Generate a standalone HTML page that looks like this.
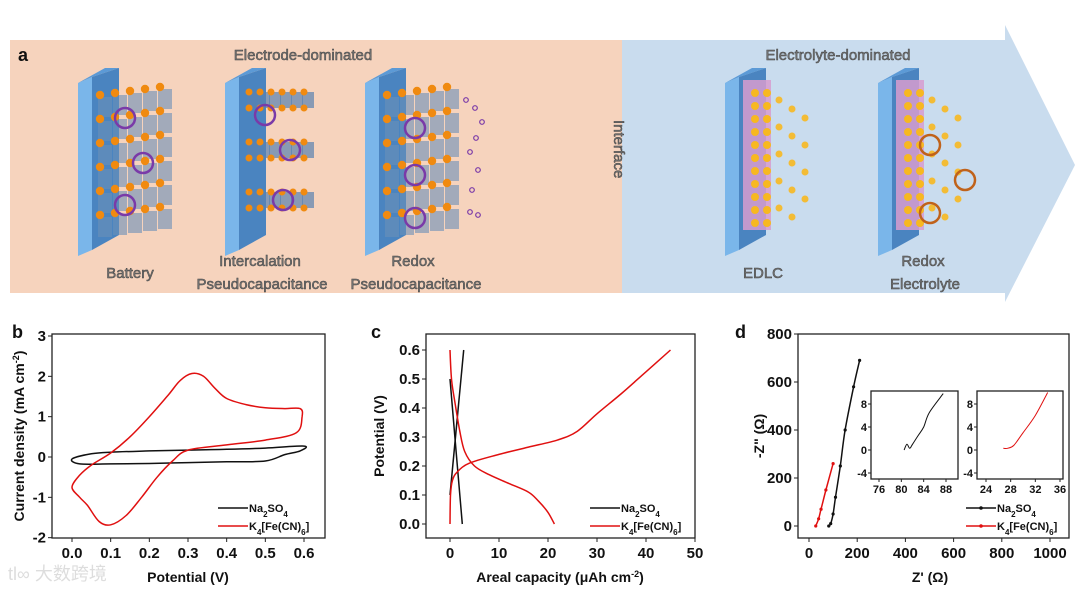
<!DOCTYPE html>
<html><head><meta charset="utf-8">
<style>
html,body{margin:0;padding:0;background:#fff;}
body{width:1080px;height:589px;overflow:hidden;position:relative;font-family:"Liberation Sans",Arial,sans-serif;}
svg{position:absolute;left:0;top:0;}
.lab{font-family:"Liberation Sans",sans-serif;font-size:15px;fill:#777;stroke:#444;stroke-width:0.5px;}
.tk{font-family:"Liberation Sans",sans-serif;font-weight:bold;font-size:15px;fill:#111;}
.ax{font-family:"Liberation Sans",sans-serif;font-weight:bold;font-size:14px;fill:#111;}
.lg{font-family:"Liberation Sans",sans-serif;font-weight:bold;font-size:11px;fill:#111;}
.itk{font-family:"Liberation Sans",sans-serif;font-weight:bold;font-size:11px;fill:#111;}
</style></head>
<body>
<svg id="fig" width="1080" height="589" viewBox="0 0 1080 589">
 <g id="top">
  <polygon points="622,40 1005,40 1005,25 1075,165 1005,302 1005,293 622,293" fill="#c9dcee"/>
  <rect x="10" y="40" width="612" height="253" fill="#f6d3bd"/>
  <text x="18" y="61" font-weight="bold" font-size="18" fill="#111">a</text>
  <text class="lab" x="303" y="60" text-anchor="middle">Electrode-dominated</text>
  <text class="lab" x="838" y="60" text-anchor="middle">Electrolyte-dominated</text>
  <text class="lab" x="130" y="278" text-anchor="middle">Battery</text>
  <text class="lab" x="260" y="266" text-anchor="middle">Intercalation</text>
  <text class="lab" x="262" y="289" text-anchor="middle">Pseudocapacitance</text>
  <text class="lab" x="413" y="266" text-anchor="middle">Redox</text>
  <text class="lab" x="416" y="289" text-anchor="middle">Pseudocapacitance</text>
  <text class="lab" x="763" y="278" text-anchor="middle">EDLC</text>
  <text class="lab" x="923" y="266" text-anchor="middle">Redox</text>
  <text class="lab" x="925" y="289" text-anchor="middle">Electrolyte</text>
  <text class="lab" x="0" y="0" transform="translate(614,120) rotate(90)">Interface</text>
 </g>
 <g id="art"></g>
 <g id="pb"></g><g id="pc"></g><g id="pd"></g>
 <text x="8" y="580" font-size="18" fill="#ddd" font-family="'Liberation Sans','Noto Sans CJK SC',sans-serif">tl∞ 大数跨境</text>
</svg>
<script>
// ---- panel b data (CV) ----
const cvNaX=[0,0.05,0.1,0.2,0.3,0.4,0.5,0.6,0.59,0.55,0.5,0.4,0.3,0.2,0.1,0.02,0];
const cvNaY=[-0.05,0.08,0.12,0.15,0.17,0.19,0.22,0.27,0.15,0.06,-0.1,-0.12,-0.14,-0.16,-0.17,-0.17,-0.05];
const cvKX=[0,0.02,0.05,0.1,0.15,0.2,0.25,0.28,0.31,0.34,0.37,0.4,0.45,0.5,0.55,0.59,0.595,0.58,0.5,0.4,0.3,0.26,0.22,0.18,0.14,0.1,0.07,0.04,0.02,0];
const cvKY=[-0.75,-0.45,-0.2,0.1,0.5,1.0,1.55,1.9,2.07,2.0,1.7,1.45,1.3,1.22,1.2,1.2,1.0,0.6,0.42,0.3,0.17,-0.1,-0.5,-1.0,-1.45,-1.68,-1.6,-1.2,-1.0,-0.75];
const bXTicks=[0,0.1,0.2,0.3,0.4,0.5,0.6];
const bYTicks=[-2,-1,0,1,2,3];
// ---- panel c data (GCD) ----
const gNaChX=[0,2.8];const gNaChY=[0.1,0.6];
const gNaDisX=[0,2.5];const gNaDisY=[0.5,0];
const gKChX=[0,0.1,0.5,1.5,4,10,16,22,26,30,35,40,45];
const gKChY=[0,0.1,0.15,0.18,0.21,0.24,0.265,0.29,0.32,0.38,0.45,0.525,0.6];
const gKDisX=[0,0.3,1,2,3,5,8,12,16,18,20,21.3];
const gKDisY=[0.6,0.5,0.42,0.32,0.25,0.2,0.17,0.14,0.11,0.08,0.04,0];
const cXTicks=[0,10,20,30,40,50];
const cYTicks=[0,0.1,0.2,0.3,0.4,0.5,0.6];
// ---- panel d data (EIS) ----
const eNaX=[82,90,100,110,130,150,185,210];
const eNaY=[0,10,50,120,250,400,580,690];
const eKX=[28,40,50,70,100];
const eKY=[0,30,70,150,260];
const iNaX=[80.5,81,81.5,82,83,84,85,87.5];
const iNaY=[0,1,0.3,1,2.5,4,6.5,9.8];
const iKX=[26.8,27.5,28.5,30,32,34];
const iKY=[0.3,0.3,0.8,3,6,10];
const dXTicks=[0,200,400,600,800,1000];
const dYTicks=[0,200,400,600,800];
const i1XTicks=[76,80,84,88];const i2XTicks=[24,28,32,36];const iYTicks=[-4,0,4,8];

const NS='http://www.w3.org/2000/svg';
function mk(p,t,a){const e=document.createElementNS(NS,t);for(const k in a)e.setAttribute(k,a[k]);p.appendChild(e);return e;}
function lin(d0,d1,r0,r1){return v=>r0+(v-d0)*(r1-r0)/(d1-d0);}
function path(g,xs,ys,sx,sy,col,w,name,closed){
 const P=xs.map((v,i)=>[sx(v),sy(ys[i])]);const n=P.length;
 let d='M'+P[0][0].toFixed(1)+','+P[0][1].toFixed(1);
 for(let i=0;i<n-1;i++){const p0=P[i>0?i-1:(closed?n-2:0)],p1=P[i],p2=P[i+1],p3=P[i+2<n?i+2:(closed?1:n-1)];
  const c1=[p1[0]+(p2[0]-p0[0])/6,p1[1]+(p2[1]-p0[1])/6],c2=[p2[0]-(p3[0]-p1[0])/6,p2[1]-(p3[1]-p1[1])/6];
  d+='C'+c1.map(v=>v.toFixed(1)).join(',')+' '+c2.map(v=>v.toFixed(1)).join(',')+' '+p2[0].toFixed(1)+','+p2[1].toFixed(1);}
 if(closed)d+='Z';
 const e=mk(g,'path',{d:d,fill:'none',stroke:col,'stroke-width':w,'stroke-linejoin':'round'});
 
 return e;}
function box(g,x0,y0,x1,y1){const r=mk(g,'rect',{x:x0,y:y0,width:x1-x0,height:y1-y0,fill:'none',stroke:'#222','stroke-width':1.3});
 
 }
function axes(g,x0,y0,x1,y1,sx,sy,xt,yt,cls,fmtx,fmty,big){
 box(g,x0,y0,x1,y1);
 xt.forEach(v=>{const x=sx(v);mk(g,'line',{x1:x,y1:y1,x2:x,y2:y1+(big?4:3),stroke:'#222'});
  const t=mk(g,'text',{x:x,y:y1+(big?20:14),'text-anchor':'middle',class:cls});t.textContent=fmtx(v);
  
  });
 yt.forEach(v=>{const y=sy(v);mk(g,'line',{x1:x0,y1:y,x2:x0-(big?4:3),y2:y,stroke:'#222'});
  const t=mk(g,'text',{x:x0-(big?6:4),y:y+(big?5:4),'text-anchor':'end',class:cls});t.textContent=fmty(v);
  
  });}
function legend(g,x,y,withDots){
 [['#111','Na<tspan baseline-shift="sub" font-size="8">2</tspan>SO<tspan baseline-shift="sub" font-size="8">4</tspan>'],['#e01010','K<tspan baseline-shift="sub" font-size="8">4</tspan>[Fe(CN)<tspan baseline-shift="sub" font-size="8">6</tspan>]']].forEach((it,i)=>{
  const yy=y+i*18;const l=mk(g,'line',{x1:x,y1:yy,x2:x+30,y2:yy,stroke:it[0],'stroke-width':1.5});
  
  
  if(withDots)mk(g,'circle',{cx:x+15,cy:yy,r:1.8,fill:it[0]});
  const t=mk(g,'text',{x:x+31,y:yy+4,class:'lg'});t.innerHTML=it[1];
  
  });}
function ylab(g,x,y,html,name){const t=mk(g,'text',{x:0,y:0,transform:`translate(${x},${y}) rotate(-90)`,'text-anchor':'middle',class:'ax'});t.innerHTML=html;
 
 }
function xlab(g,x,y,html,name){const t=mk(g,'text',{x:x,y:y,'text-anchor':'middle',class:'ax'});t.innerHTML=html;
 
 }
function plabel(g,x,y,s){const t=mk(g,'text',{x:x,y:y,'font-weight':'bold','font-size':18,fill:'#111'});t.textContent=s;
 
 }

// panel b
(function(){const g=document.getElementById('pb');
 const sx=lin(0,0.6,72,304), sy=lin(0,3,457,336);
 axes(g,52,334,325,538,sx,sy,bXTicks,bYTicks,'tk',v=>v.toFixed(1),v=>String(v),true);
 path(g,cvNaX,cvNaY,sx,sy,'#111',1.5,'cv-na2so4',true);
 path(g,cvKX,cvKY,sx,sy,'#e01010',1.5,'cv-k4fecn6',true);
 legend(g,218,508,false);
 plabel(g,12,338,'b');
 ylab(g,24,436,'Current density (mA cm<tspan baseline-shift="super" font-size="9">-2</tspan>)','y-axis-title');
 xlab(g,188,582,'Potential (V)','x-axis-title');})();

// panel c
(function(){const g=document.getElementById('pc');
 const sx=lin(0,50,450,695), sy=lin(0,0.6,524,350);
 axes(g,426,334,695,538,sx,sy,cXTicks,cYTicks,'tk',v=>String(v),v=>v.toFixed(1),true);
 path(g,gNaChX,gNaChY,sx,sy,'#111',1.5,'gcd-na-charge');
 path(g,gNaDisX,gNaDisY,sx,sy,'#111',1.5,'gcd-na-discharge');
 path(g,gKChX,gKChY,sx,sy,'#e01010',1.5,'gcd-k-charge');
 path(g,gKDisX,gKDisY,sx,sy,'#e01010',1.5,'gcd-k-discharge');
 legend(g,590,508,false);
 plabel(g,371,338,'c');
 ylab(g,384,436,'Potential (V)','y-axis-title');
 xlab(g,560,582,'Areal capacity (μAh cm<tspan baseline-shift="super" font-size="9">-2</tspan>)','x-axis-title');})();

// panel d
(function(){const g=document.getElementById('pd');
 const sx=lin(0,1000,809,1050), sy=lin(0,800,526,334);
 axes(g,798,334,1069,538,sx,sy,dXTicks,dYTicks,'tk',v=>String(v),v=>String(v),true);
 path(g,eNaX,eNaY,sx,sy,'#111',1.5,'eis-na2so4');
 path(g,eKX,eKY,sx,sy,'#e01010',1.5,'eis-k4fecn6');
 eNaX.forEach((v,i)=>mk(g,'circle',{cx:sx(v),cy:sy(eNaY[i]),r:1.6,fill:'#111'}));
 eKX.forEach((v,i)=>mk(g,'circle',{cx:sx(v),cy:sy(eKY[i]),r:1.6,fill:'#e01010'}));
 const ax1=lin(76,88,879,946), ay=lin(0,8,450,404);
 axes(g,871,391,958,479,ax1,ay,i1XTicks,iYTicks,'itk',v=>String(v),v=>String(v),false);
 path(g,iNaX,iNaY,ax1,ay,'#111',1,'inset-na2so4');
 const ax2=lin(24,36,986,1060);
 axes(g,977,391,1063,479,ax2,ay,i2XTicks,iYTicks,'itk',v=>String(v),v=>String(v),false);
 path(g,iKX,iKY,ax2,ay,'#e01010',1,'inset-k4fecn6');
 legend(g,966,508,true);
 plabel(g,735,338,'d');
 ylab(g,764,436,'-Z" (Ω)','y-axis-title');
 xlab(g,930,582,"Z' (Ω)",'x-axis-title');})();

// schematic art
(function(){const g=document.getElementById('art');
 function slab(x){const s=mk(g,'polygon',{points:`${x},83 ${x+14},77 ${x+14},250 ${x},256`,fill:'#7ab6ea'});
  
  
  mk(g,'polygon',{points:`${x},83 ${x+27},68 ${x+41},68 ${x+14},77`,fill:'#5c9ad6'});
  mk(g,'polygon',{points:`${x+14},77 ${x+41},68 ${x+41},235 ${x+14},250`,fill:'#4a84c0'});}
 function crystal(x,rows){for(let r=0;r<rows;r++)for(let c=0;c<5;c++){const cx=x+22+c*15,cy=95+r*24-c*2;
  mk(g,'rect',{x:cx-2,y:cy+2,width:14,height:20,fill:'#6a8fb8',opacity:0.6});
  mk(g,'circle',{cx:cx,cy:cy,r:4.2,fill:'#f08a10'});}}
 slab(78);crystal(78,6);slab(225);
 for(let r=0;r<3;r++)for(let c=0;c<6;c++){mk(g,'rect',{x:247+c*11,y:92+r*50,width:12,height:16,fill:'#5a82b0',opacity:0.7});
  mk(g,'circle',{cx:249+c*11,cy:92+r*50,r:3.5,fill:'#f08a10'});mk(g,'circle',{cx:249+c*11,cy:108+r*50,r:3.5,fill:'#f08a10'});}
 slab(365);crystal(365,6);
 [[125,118],[143,163],[125,205],[265,115],[290,150],[283,200],[415,128],[415,175],[415,218]].forEach(p=>mk(g,'circle',{cx:p[0],cy:p[1],r:10,fill:'none',stroke:'#7a3aa8','stroke-width':2.5}));
 [[466,100],[475,108],[482,122],[476,138],[470,152],[478,170],[472,190],[470,212],[478,215]].forEach(p=>mk(g,'circle',{cx:p[0],cy:p[1],r:2.3,fill:'none',stroke:'#7a3aa8','stroke-width':1.2}));
 [725,878].forEach(x=>{slab(x);
  mk(g,'rect',{x:x+18,y:80,width:28,height:150,fill:'#d79ccf',opacity:0.85});
  for(let r=0;r<11;r++)for(let c=0;c<2;c++)mk(g,'circle',{cx:x+30+c*12,cy:93+r*13,r:4,fill:'#f7b820'});
  for(let i=0;i<14;i++)mk(g,'circle',{cx:x+54+(i%3)*13,cy:100+i*9,r:3.5,fill:'#f7b820',opacity:0.9});});
 [[930,145],[965,180],[930,213]].forEach(p=>mk(g,'circle',{cx:p[0],cy:p[1],r:10,fill:'none',stroke:'#c0621a','stroke-width':2.5}));})();
</script>
</body></html>
